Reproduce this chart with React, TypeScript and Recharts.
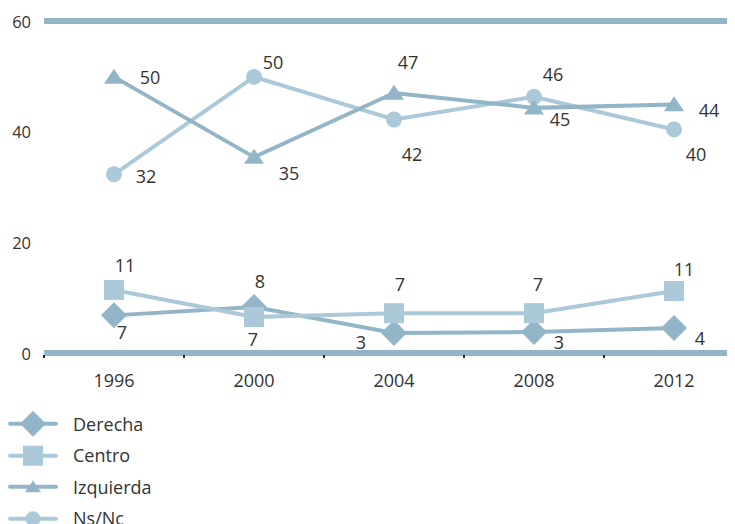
import React from "react";
import { ComposedChart, Line, XAxis, YAxis, ReferenceLine, Legend } from "recharts";

const years = ["1996", "2000", "2004", "2008", "2012"];

// values as plotted
const derecha = [6.8, 8.3, 3.6, 3.8, 4.5];
const centro = [11.4, 6.5, 7.2, 7.2, 11.2];
const izquierda = [49.9, 35.4, 47.0, 44.3, 44.9];
const nsnc = [32.3, 49.9, 42.2, 46.3, 40.4];

// values as printed next to the markers
const derechaLabels = ["7", "8", "3", "3", "4"];
const centroLabels = ["11", "7", "7", "7", "11"];
const izquierdaLabels = ["50", "35", "47", "45", "44"];
const nsncLabels = ["32", "50", "42", "46", "40"];

const yTicks = [0, 20, 40, 60];

const DARK = "#93b5c8";
const LIGHT = "#abc9d8";
const TEXT = "#333333";
const FONT = "'Open Sans', sans-serif";

const PLOT_LEFT = 36;
const PLOT_W = 700;
const BAND = PLOT_W / years.length;

// label placement relative to each marker [dx, dy]
const derechaOff = [[8, 17], [6, -26], [-33, 9], [25, 10], [26, 10]];
const centroOff = [[11, -25], [-1, 22], [6, -29], [4, -29], [10, -22]];
const izquierdaOff = [[36, 0], [35, 16], [14, -31], [26, 11], [35, 5]];
const nsncOff = [[32, 2], [19, -15], [18, 35], [19, -23], [22, 25]];

const data = years.map((year, i) => ({
  year,
  derecha: derecha[i],
  centro: centro[i],
  izquierda: izquierda[i],
  nsnc: nsnc[i],
}));

const Diamond = ({ cx, cy, r = 13, fill }: any) => (
  <path d={`M${cx},${cy - r} L${cx + r},${cy} L${cx},${cy + r} L${cx - r},${cy} Z`} fill={fill} />
);
const Square = ({ cx, cy, s = 10, fill }: any) => (
  <rect x={cx - s} y={cy - s} width={s * 2} height={s * 2} fill={fill} />
);
const Triangle = ({ cx, cy, w = 10, h = 15, fill }: any) => (
  <path d={`M${cx},${cy - h * 0.55} L${cx + w},${cy + h * 0.45} L${cx - w},${cy + h * 0.45} Z`} fill={fill} />
);
const Circle = ({ cx, cy, r = 8, fill }: any) => <circle cx={cx} cy={cy} r={r} fill={fill} />;

const makeLabel = (labels: string[], offs: number[][]) => (props: any) => {
  const { x, y, index } = props;
  return (
    <text
      key={`l-${index}`}
      x={x + offs[index][0]}
      y={y + offs[index][1]}
      textAnchor="middle"
      dominantBaseline="central"
      fontSize={18}
      fontFamily={FONT}
      fill={TEXT}
    >
      {labels[index]}
    </text>
  );
};

const XTick = (props: any) => {
  const { x, y, payload } = props;
  return (
    <g>
      <line x1={x - BAND / 2} x2={x - BAND / 2} y1={y + 2} y2={y + 5} stroke="#222" strokeWidth={2} />
      <text x={x} y={y + 27} textAnchor="middle" dominantBaseline="central" fontSize={18} fontFamily={FONT} fill={TEXT}>
        {payload.value}
      </text>
    </g>
  );
};

const YTick = (props: any) => {
  const { x, y, payload } = props;
  return (
    <text x={x} y={y} textAnchor="end" dominantBaseline="central" fontSize={16.5} fontFamily={FONT} fill={TEXT}>
      {payload.value}
    </text>
  );
};

const legendItems = [
  { name: "Derecha", color: DARK, marker: (cx: number, cy: number) => <Diamond cx={cx} cy={cy} r={13} fill={DARK} /> },
  { name: "Centro", color: LIGHT, marker: (cx: number, cy: number) => <Square cx={cx} cy={cy} s={10} fill={LIGHT} /> },
  { name: "Izquierda", color: DARK, marker: (cx: number, cy: number) => <Triangle cx={cx} cy={cy} w={8} h={12} fill={DARK} /> },
  { name: "Ns/Nc", color: LIGHT, marker: (cx: number, cy: number) => <Circle cx={cx} cy={cy} r={7.5} fill={LIGHT} /> },
];

const LegendContent = () => (
  <div style={{ height: 126, fontFamily: FONT }}>
    {legendItems.map((item) => (
      <div key={item.name} style={{ display: "flex", alignItems: "center", height: 31.5 }}>
        <svg width={60} height={31.5}>
          <line x1={2} x2={48} y1={15.75} y2={15.75} stroke={item.color} strokeWidth={4} strokeLinecap="round" />
          {item.marker(25, 15.75)}
        </svg>
        <span style={{ marginLeft: 5, fontSize: 18, color: TEXT }}>{item.name}</span>
      </div>
    ))}
  </div>
);

const App = () => {
  return (
    <div style={{ width: 727, height: 516, overflow: "hidden", position: "relative" }}>
      <ComposedChart width={PLOT_LEFT + PLOT_W} height={526} data={data} margin={{ top: 13, right: 0, left: 0, bottom: 0 }}>
        <XAxis
          dataKey="year"
          scale="band"
          axisLine={false}
          tickLine={false}
          tickSize={0}
          tickMargin={0}
          height={55}
          tick={<XTick />}
          interval={0}
        />
        <YAxis
          domain={[0, 60]}
          ticks={yTicks}
          width={PLOT_LEFT}
          axisLine={false}
          tickLine={false}
          tickSize={0}
          tickMargin={13}
          tick={<YTick />}
        />
        <ReferenceLine y={60} stroke={DARK} strokeWidth={6} />
        <ReferenceLine y={0} stroke={DARK} strokeWidth={6} />
        <Legend
          verticalAlign="bottom"
          align="left"
          layout="horizontal"
          content={<LegendContent />}
          wrapperStyle={{ left: 0, width: 300 }}
        />
        <Line
          dataKey="derecha"
          name="Derecha"
          stroke={DARK}
          strokeWidth={4}
          isAnimationActive={false}
          dot={(p: any) => <Diamond key={`d-${p.index}`} cx={p.cx} cy={p.cy} r={13} fill={DARK} />}
          label={makeLabel(derechaLabels, derechaOff)}
        />
        <Line
          dataKey="centro"
          name="Centro"
          stroke={LIGHT}
          strokeWidth={4}
          isAnimationActive={false}
          dot={(p: any) => <Square key={`c-${p.index}`} cx={p.cx} cy={p.cy} s={10} fill={LIGHT} />}
          label={makeLabel(centroLabels, centroOff)}
        />
        <Line
          dataKey="nsnc"
          name="Ns/Nc"
          stroke={LIGHT}
          strokeWidth={4}
          isAnimationActive={false}
          dot={(p: any) => <Circle key={`n-${p.index}`} cx={p.cx} cy={p.cy} r={8} fill={LIGHT} />}
          label={makeLabel(nsncLabels, nsncOff)}
        />
        <Line
          dataKey="izquierda"
          name="Izquierda"
          stroke={DARK}
          strokeWidth={4}
          isAnimationActive={false}
          dot={(p: any) => <Triangle key={`i-${p.index}`} cx={p.cx} cy={p.cy} w={10} h={15} fill={DARK} />}
          label={makeLabel(izquierdaLabels, izquierdaOff)}
        />
      </ComposedChart>
    </div>
  );
};

export default App;
